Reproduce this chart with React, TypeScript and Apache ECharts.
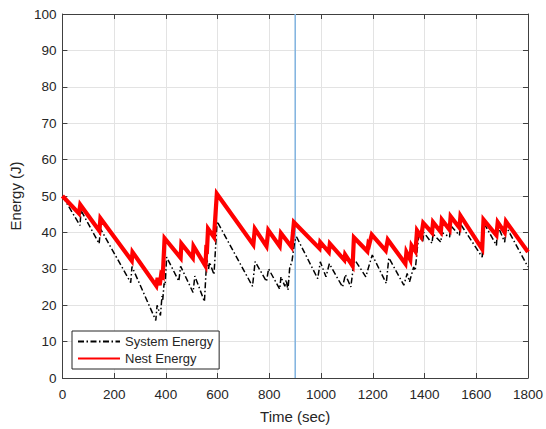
import React, { useEffect, useRef } from "react";
import * as echarts from "echarts";

const xTicks = [0, 200, 400, 600, 800, 1000, 1200, 1400, 1600, 1800];
const markerTime = 900;

const nestTime = [0, 64, 69, 143, 147, 268, 271, 363, 368, 376, 382, 388, 395, 457, 460, 504, 507, 553, 556, 559, 563, 586, 597, 738, 744, 789, 796, 840, 845, 886, 895, 994, 997, 1030, 1034, 1090, 1093, 1122, 1127, 1179, 1183, 1186, 1196, 1250, 1258, 1326, 1330, 1345, 1350, 1365, 1371, 1387, 1395, 1429, 1433, 1463, 1467, 1497, 1501, 1535, 1539, 1623, 1628, 1678, 1683, 1710, 1715, 1800];
const nestEnergy = [50, 45.2, 47.6, 40.4, 43.9, 32.2, 34.6, 25.3, 27.5, 25.5, 28.5, 28, 38.4, 33.0, 36.9, 33.0, 36.2, 30.8, 35.4, 35.2, 41.0, 38.7, 50.6, 36.6, 41.0, 36.2, 40.6, 36.2, 39.8, 36.0, 42.8, 35.6, 37.3, 34.6, 36.9, 32.4, 33.9, 30.8, 38.6, 34.8, 36.9, 36.6, 39.4, 35.0, 38.0, 31.4, 34.6, 32.5, 36.4, 34.8, 40.5, 38.8, 42.6, 39.9, 42.8, 40.1, 43.5, 40.7, 44.4, 41.3, 44.6, 35.4, 43.5, 39.2, 42.8, 40.0, 43.0, 34.6];

const sysTime = [0, 68, 72, 142, 147, 264, 269, 361, 366, 379, 385, 388, 393, 397, 403, 450, 457, 505, 512, 549, 555, 559, 565, 569, 586, 598, 735, 745, 789, 797, 840, 845, 860, 865, 872, 879, 887, 898, 905, 987, 997, 1019, 1032, 1083, 1094, 1115, 1127, 1132, 1173, 1186, 1198, 1252, 1262, 1320, 1333, 1342, 1358, 1364, 1372, 1378, 1393, 1397, 1429, 1433, 1463, 1467, 1497, 1501, 1535, 1539, 1623, 1628, 1678, 1683, 1710, 1715, 1800];
const sysEnergy = [50, 41.9, 46, 36.9, 41, 26.2, 30.6, 15.8, 20, 17.2, 22.5, 21.5, 26, 25.5, 33.2, 26.6, 30.7, 23.5, 28, 21, 28.8, 32.5, 30, 31.8, 28.4, 43, 25.2, 32, 26.5, 30, 24.4, 27.8, 25.2, 27, 24.2, 30.5, 31.8, 37.5, 38.8, 27.3, 31.9, 27.8, 31.4, 25, 28.4, 25, 31.8, 32.3, 27.8, 31, 33.8, 26, 33, 25.5, 28.7, 26.4, 30.5, 29.5, 35.5, 39.2, 37.5, 40, 37, 39.6, 37.3, 40, 38.7, 41.9, 39.2, 42.3, 33.2, 42.8, 36.4, 41.9, 37.3, 41.7, 30.5];

const FONT = "'Liberation Sans', Arial, Helvetica, sans-serif";
const AXIS_COLOR = "#404040";
const TEXT_COLOR = "#262626";
const GRID_COLOR = "#e3e3e3";

export default function App() {
  const ref = useRef<HTMLDivElement>(null);
  useEffect(() => {
    if (!ref.current) return;
    const chart = echarts.init(ref.current, undefined, { renderer: "svg" });
    const sysData = sysTime.map((t, i) => [t, sysEnergy[i]]);
    const nestData = nestTime.map((t, i) => [t, nestEnergy[i]]);
    const xCommon = {
      type: "value" as const,
      min: xTicks[0],
      max: xTicks[xTicks.length - 1],
      interval: 200,
      axisLine: { show: true, onZero: false, lineStyle: { color: AXIS_COLOR, width: 1 } },
      axisTick: { show: true, inside: true, length: 5, lineStyle: { color: AXIS_COLOR } },
    };
    const yCommon = {
      type: "value" as const,
      min: 0,
      max: 100,
      interval: 10,
      axisLine: { show: true, onZero: false, lineStyle: { color: AXIS_COLOR, width: 1 } },
      axisTick: { show: true, inside: true, length: 5, lineStyle: { color: AXIS_COLOR } },
    };
    chart.setOption({
      animation: false,
      backgroundColor: "#ffffff",
      textStyle: { fontFamily: FONT },
      grid: { left: 61, right: 16, top: 14, bottom: 49, containLabel: false },
      legend: {
        data: ["System Energy", "Nest Energy"],
        orient: "vertical",
        left: 72,
        top: 331,
        itemWidth: 42,
        itemHeight: 12,
        itemGap: 4,
        padding: [4, 6, 4, 5],
        backgroundColor: "#ffffff",
        borderColor: "#262626",
        borderWidth: 1,
        borderRadius: 0,
        itemStyle: { opacity: 0 },
        textStyle: { fontFamily: FONT, fontSize: 13, color: TEXT_COLOR },
        selectedMode: false,
      },
      xAxis: [
        {
          ...xCommon,
          position: "bottom",
          name: "Time (sec)",
          nameLocation: "middle",
          nameGap: 31,
          nameTextStyle: { fontFamily: FONT, fontSize: 15, color: TEXT_COLOR },
          axisLabel: {
            show: true,
            margin: 9,
            fontSize: 13.5,
            color: TEXT_COLOR,
            fontFamily: FONT,
            formatter: (v: number) => String(v),
          },
          splitLine: { show: true, lineStyle: { color: GRID_COLOR, width: 1 } },
        },
        {
          ...xCommon,
          position: "top",
          axisLabel: { show: false },
          splitLine: { show: false },
        },
      ],
      yAxis: [
        {
          ...yCommon,
          position: "left",
          name: "Energy (J)",
          nameLocation: "middle",
          nameGap: 36,
          nameTextStyle: { fontFamily: FONT, fontSize: 15, color: TEXT_COLOR },
          axisLabel: { show: true, margin: 6, fontSize: 13.5, color: TEXT_COLOR, fontFamily: FONT },
          splitLine: { show: true, lineStyle: { color: GRID_COLOR, width: 1 } },
        },
        {
          ...yCommon,
          position: "right",
          axisLabel: { show: false },
          splitLine: { show: false },
        },
      ],
      series: [
        {
          name: "Marker",
          type: "line",
          xAxisIndex: 0,
          yAxisIndex: 0,
          data: [[markerTime, 0], [markerTime, 100]],
          symbol: "none",
          silent: true,
          lineStyle: { color: "#7fb2df", width: 1.5 },
          z: 1,
        },
        {
          name: "System Energy",
          type: "line",
          xAxisIndex: 0,
          yAxisIndex: 0,
          data: sysData,
          symbol: "none",
          showSymbol: false,
          lineStyle: { color: "#000000", width: 1.5, type: [6, 2.5, 1.5, 2.5] },
          itemStyle: { color: "#000000" },
          z: 2,
        },
        {
          name: "Nest Energy",
          type: "line",
          xAxisIndex: 0,
          yAxisIndex: 0,
          data: nestData,
          symbol: "none",
          showSymbol: false,
          lineStyle: { color: "#ff0000", width: 4.2, join: "miter" },
          itemStyle: { color: "#ff0000" },
          z: 3,
        },
      ],
    });
    return () => chart.dispose();
  }, []);
  return <div ref={ref} style={{ width: 546, height: 429, position: "absolute", left: 0, top: 0 }} />;
}
